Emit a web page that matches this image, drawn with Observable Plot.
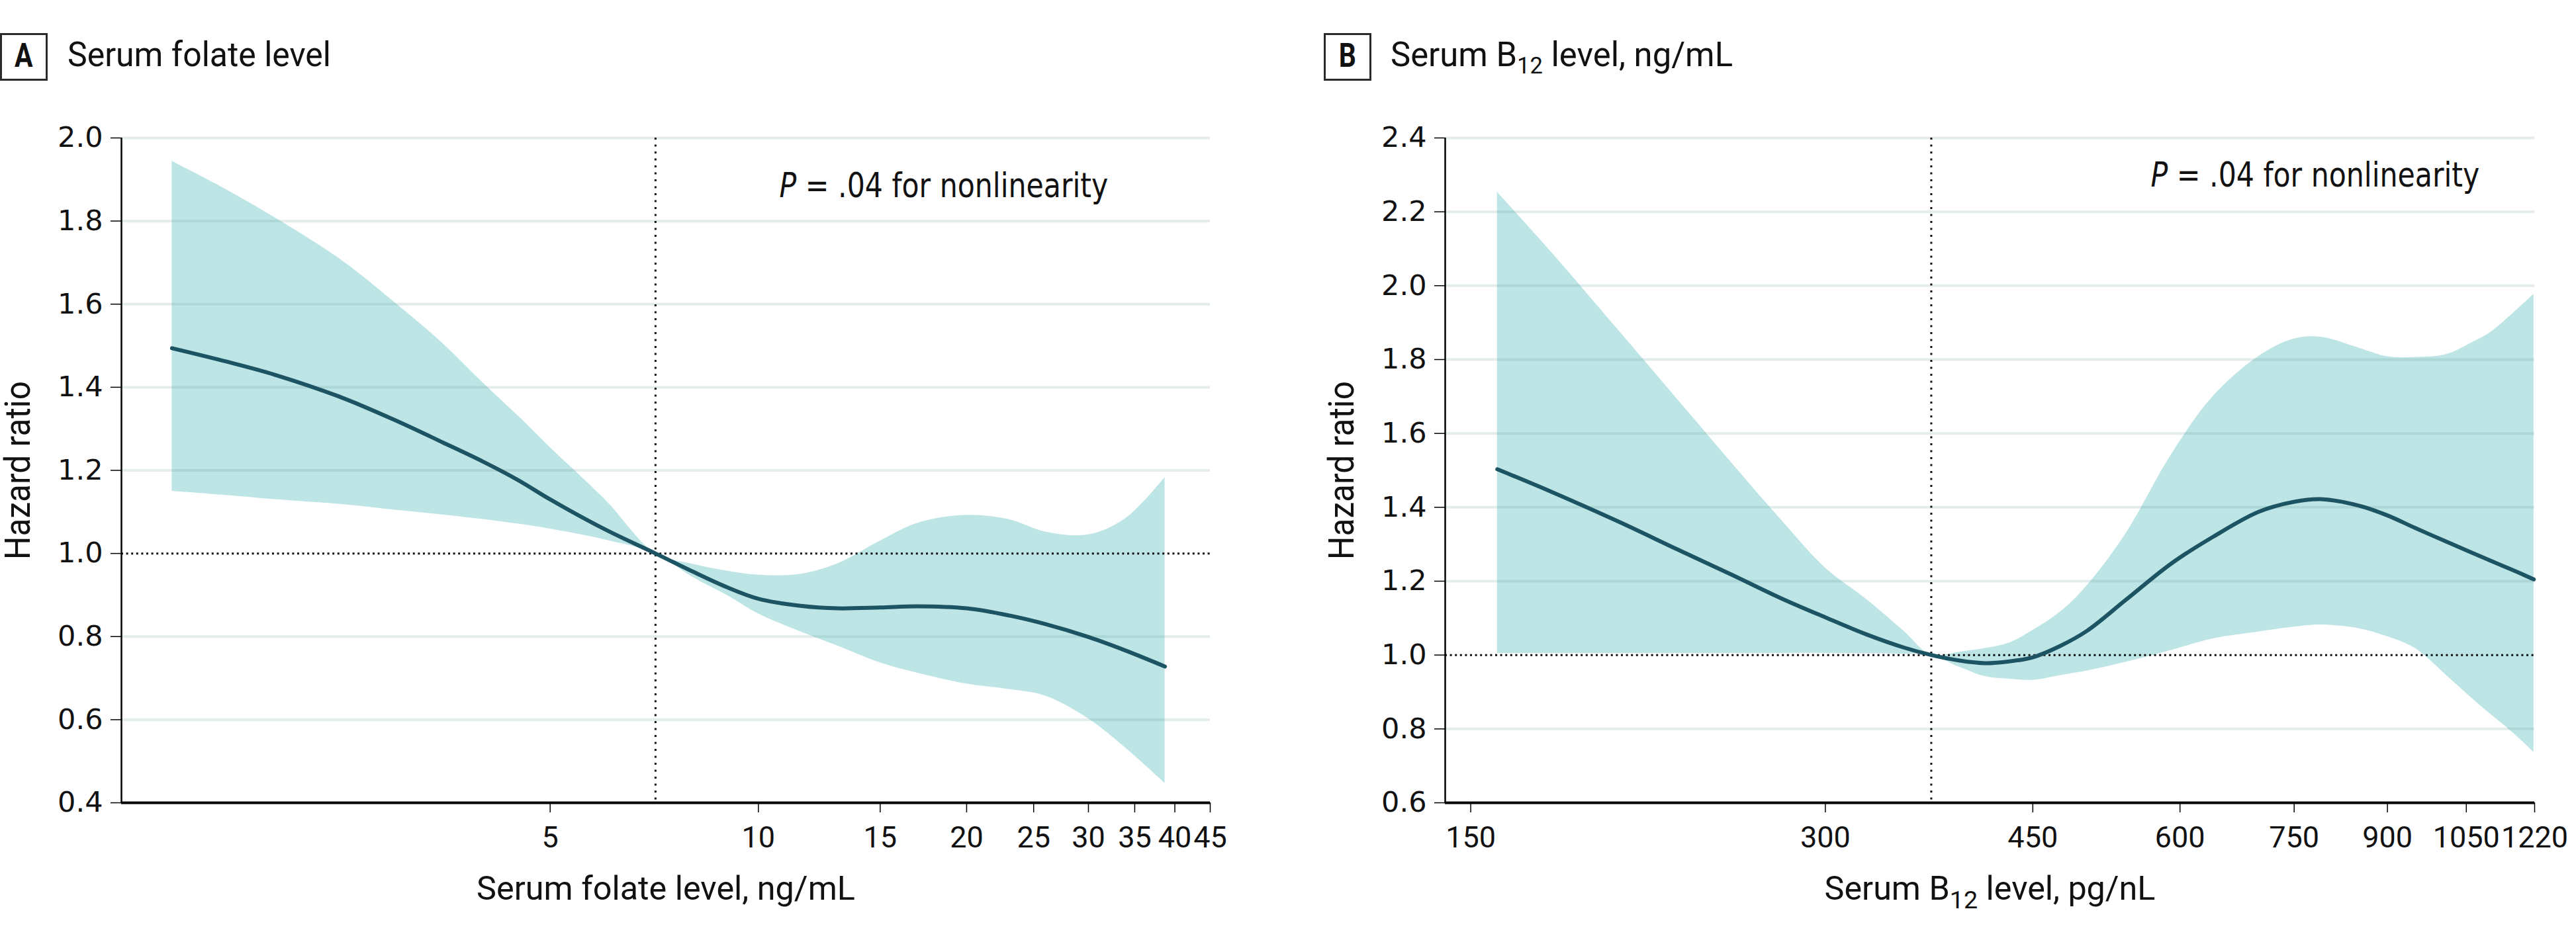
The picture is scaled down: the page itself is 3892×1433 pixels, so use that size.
<!DOCTYPE html>
<html>
<head>
<meta charset="utf-8">
<script src="https://cdn.jsdelivr.net/npm/d3@7"></script>
<script src="https://cdn.jsdelivr.net/npm/@observablehq/plot@0.6"></script>
<style>
  html, body { margin: 0; padding: 0; background: #fff; }
  #root { position: relative; width: 3892px; height: 1433px; background: #fff; overflow: hidden; }
  .box { position: absolute; top: 50px; width: 66px; height: 66px; border: 3px solid #2b2b2b;
         font-family: Roboto, sans-serif; font-weight: bold; font-size: 50px; line-height: 62px;
         text-align: center; color: #111; }
  .box span { display: inline-block; transform: scaleX(0.82); }
  .title { position: absolute; top: 57px; font-family: Roboto, sans-serif; font-size: 52px; line-height: 52px;
           color: #111; white-space: nowrap; transform-origin: left center; display: inline-block; }
  .title sub { font-size: 0.68em; vertical-align: -0.3em; line-height: 0; }
  .panel { position: absolute; top: 150px; }
</style>
</head>
<body>
<div id="root">
  <div class="box" style="left:0px"><span>A</span></div>
  <div class="title" id="titleA" style="left:102px">Serum folate level</div>
  <div class="box" style="left:2000px"><span>B</span></div>
  <div class="title" id="titleB" style="left:2101px">Serum B<sub>12</sub> level, ng/mL</div>
  <div class="panel" id="pa" style="left:0px"></div>
  <div class="panel" id="pb" style="left:1946px"></div>
</div>
<script>
// ---------- Panel A: serum folate (ng/mL) ----------
const folateX  = [1.42, 1.7, 2.0, 2.5, 3.0, 3.5, 4.0, 4.5, 5.0, 6.0, 7.1, 8.0, 9.0, 10.0, 11.5, 13, 15, 17, 20, 23, 26, 30, 34, 38.7];
const folateHR = [1.494, 1.462, 1.430, 1.375, 1.319, 1.267, 1.221, 1.176, 1.130, 1.058, 1.000, 0.958, 0.919, 0.891, 0.874, 0.868, 0.870, 0.873, 0.868, 0.851, 0.830, 0.799, 0.766, 0.728];
const folateLo = [1.150, 1.140, 1.130, 1.118, 1.104, 1.093, 1.082, 1.071, 1.059, 1.033, 1.000, 0.945, 0.900, 0.855, 0.812, 0.778, 0.737, 0.712, 0.686, 0.673, 0.657, 0.602, 0.531, 0.447];
const folateUp = [1.944, 1.876, 1.808, 1.705, 1.600, 1.505, 1.410, 1.330, 1.255, 1.130, 1.000, 0.975, 0.958, 0.948, 0.950, 0.975, 1.030, 1.073, 1.092, 1.082, 1.052, 1.045, 1.085, 1.183];
const folateRef = 7.1;
const folateDomain = [1.2, 45];
const folateTicks = [5, 10, 15, 20, 25, 30, 35, 40, 45];
const folateTickLabels = ["5", "10", "15", "20", "25", "30", "35", "40", "45"];
const hrTicksA = [0.4, 0.6, 0.8, 1.0, 1.2, 1.4, 1.6, 1.8, 2.0];

// ---------- Panel B: serum B12 (pg/mL) ----------
const b12X  = [158, 175, 200, 225, 250, 275, 300, 325, 350, 369, 390, 410, 430, 450, 475, 500, 540, 590, 640, 700, 750, 790, 850, 900, 950, 1010, 1060, 1100, 1150, 1198];
const b12HR = [1.503, 1.444, 1.362, 1.285, 1.217, 1.154, 1.102, 1.056, 1.020, 1.000, 0.985, 0.978, 0.983, 0.994, 1.025, 1.065, 1.150, 1.248, 1.320, 1.388, 1.415, 1.422, 1.405, 1.378, 1.344, 1.307, 1.278, 1.256, 1.230, 1.205];
const b12Up = [2.253, 2.096, 1.881, 1.690, 1.519, 1.367, 1.236, 1.151, 1.064, 1.000, 1.008, 1.018, 1.033, 1.067, 1.117, 1.187, 1.330, 1.543, 1.700, 1.809, 1.856, 1.861, 1.832, 1.808, 1.806, 1.814, 1.845, 1.873, 1.925, 1.977];
const b12Lo = [1.005, 1.005, 1.005, 1.005, 1.005, 1.005, 1.005, 1.004, 1.003, 1.000, 0.967, 0.942, 0.935, 0.932, 0.945, 0.957, 0.981, 1.013, 1.044, 1.063, 1.076, 1.082, 1.072, 1.050, 1.018, 0.945, 0.885, 0.841, 0.790, 0.737];
const b12Ref = 369;
const b12Domain = [142.7, 1200];
const b12Ticks = [150, 300, 450, 600, 750, 900, 1050, 1200];
const b12TickLabels = ["150", "300", "450", "600", "750", "900", "1050", "1220"];
const hrTicksB = [0.6, 0.8, 1.0, 1.2, 1.4, 1.6, 1.8, 2.0, 2.2, 2.4];

const yLabel = "Hazard ratio";
const pLabel = "P = .04 for nonlinearity";
const xLabelA = "Serum folate level, ng/mL";
const xLabelPartsB = ["Serum B", "12", " level, pg/nL"];

const BAND = "#bde5e5";
const LINE = "#1d5464";

function fit(el, target, anchor) {
  const bb = el.getBBox();
  if (!bb.width) return;
  const s = target / bb.width;
  const ax = anchor === "start" ? bb.x : bb.x + bb.width / 2;
  const t = el.getAttribute("transform") || "";
  el.setAttribute("transform", (t + ` translate(${ax},0) scale(${s},1) translate(${-ax},0)`).trim());
}

function panel(cfg) {
  const data = cfg.x.map((x, i) => ({x, hr: cfg.hr[i], lo: cfg.lo[i], up: cfg.up[i]}));
  const grid = cfg.yTicks.filter(d => d !== 1 && d !== cfg.yTicks[0]);
  const xLabelText = Array.isArray(cfg.xLabel) ? cfg.xLabel.join("") : cfg.xLabel;
  const y0 = cfg.yTicks[0], y1 = cfg.yTicks[cfg.yTicks.length - 1];
  const plot = Plot.plot({
    width: 1946, height: 1283,
    marginLeft: cfg.ml, marginRight: cfg.mr, marginTop: 58, marginBottom: 220,
    style: {background: "#fff", overflow: "visible"},
    x: {type: "log", domain: cfg.xDomain},
    y: {domain: [y0, y1]},
    marks: [
      Plot.areaY(data, {x: "x", y1: "lo", y2: "up", fill: BAND, curve: "catmull-rom"}),
      Plot.ruleY(grid, {stroke: "#5f8f8f", strokeOpacity: 0.17, strokeWidth: 4}),
      Plot.ruleY([1], {stroke: "#111", strokeWidth: 3, strokeDasharray: "3,4.6"}),
      Plot.ruleX([cfg.ref], {stroke: "#111", strokeWidth: 3, strokeDasharray: "3,7.5"}),
      Plot.line(data, {x: "x", y: "hr", stroke: LINE, strokeWidth: 6, curve: "catmull-rom"}),
      Plot.ruleX([cfg.xDomain[0]], {stroke: "#000", strokeWidth: 2.5}),
      Plot.ruleY([y0], {stroke: "#000", strokeWidth: 4}),
      Plot.axisY({ticks: cfg.yTicks, tickFormat: d => d.toFixed(1), tickSize: 16, tickPadding: 12,
                  fontFamily: "DejaVu Sans", fontSize: 43, stroke: "#000", strokeWidth: 1.5, label: null, fill: "#111"}),
      Plot.axisX({ticks: cfg.xTicks, tickFormat: d => cfg.xTickLabels[cfg.xTicks.indexOf(d)], tickSize: 15, tickPadding: 21,
                  fontFamily: "Roboto", fontSize: 45, stroke: "#000", strokeWidth: 1.5, label: null, fill: "#111"}),
      Plot.text([xLabelText], {frameAnchor: "bottom", textAnchor: "middle", dy: 146, fontFamily: "Roboto", fontSize: 50, fill: "#111"}),
      Plot.text([yLabel], {frameAnchor: "left", textAnchor: "middle", rotate: -90, dx: -155.5,
                           fontFamily: "Roboto", fontSize: 54, fill: "#111"}),
      Plot.text([pLabel], {frameAnchor: "top-left", textAnchor: "start", lineAnchor: "bottom", dx: cfg.pdx, dy: cfg.pdy,
                           fontFamily: "DejaVu Sans", fontSize: 52, fill: "#111"})
    ]
  });
  document.getElementById(cfg.id).appendChild(plot);
  const ns = "http://www.w3.org/2000/svg";
  const texts = Array.from(plot.querySelectorAll("text"));
  for (const t of texts) {
    const c = t.textContent;
    if (c === yLabel) {
      fit(t, 270, "middle");
    } else if (c === xLabelText) {
      if (Array.isArray(cfg.xLabel)) {
        t.textContent = "";
        const a = document.createElementNS(ns, "tspan"); a.textContent = cfg.xLabel[0]; t.appendChild(a);
        const b = document.createElementNS(ns, "tspan"); b.textContent = cfg.xLabel[1];
        b.setAttribute("font-size", "0.75em"); b.setAttribute("dy", "0.36em"); t.appendChild(b);
        const c2 = document.createElementNS(ns, "tspan"); c2.textContent = cfg.xLabel[2];
        c2.setAttribute("dy", "-0.27em"); t.appendChild(c2);
      }
      fit(t, cfg.xLabelW, "middle");
    } else if (c === pLabel) {
      t.textContent = "";
      const a = document.createElementNS(ns, "tspan"); a.textContent = pLabel.slice(0, 1);
      a.setAttribute("font-style", "italic"); t.appendChild(a);
      const b = document.createElementNS(ns, "tspan"); b.textContent = pLabel.slice(1); t.appendChild(b);
      fit(t, 497, "start");
    }
  }
}

panel({id: "pa", x: folateX, hr: folateHR, lo: folateLo, up: folateUp, ref: folateRef,
       xDomain: folateDomain, xTicks: folateTicks, xTickLabels: folateTickLabels, yTicks: hrTicksA,
       ml: 183, mr: 118, xLabel: xLabelA, xLabelW: 572, pdx: 994, pdy: 89.6});
panel({id: "pb", x: b12X, hr: b12HR, lo: b12Lo, up: b12Up, ref: b12Ref,
       xDomain: b12Domain, xTicks: b12Ticks, xTickLabels: b12TickLabels, yTicks: hrTicksB,
       ml: 237, mr: 63, xLabel: xLabelPartsB, xLabelW: 500, pdx: 1066, pdy: 73});

// condensed titles
for (const [id, w] of [["titleA", 398], ["titleB", 517]]) {
  const el = document.getElementById(id);
  const cur = el.getBoundingClientRect().width;
  el.style.transform = `scaleX(${w / cur})`;
}
</script>
</body>
</html>
